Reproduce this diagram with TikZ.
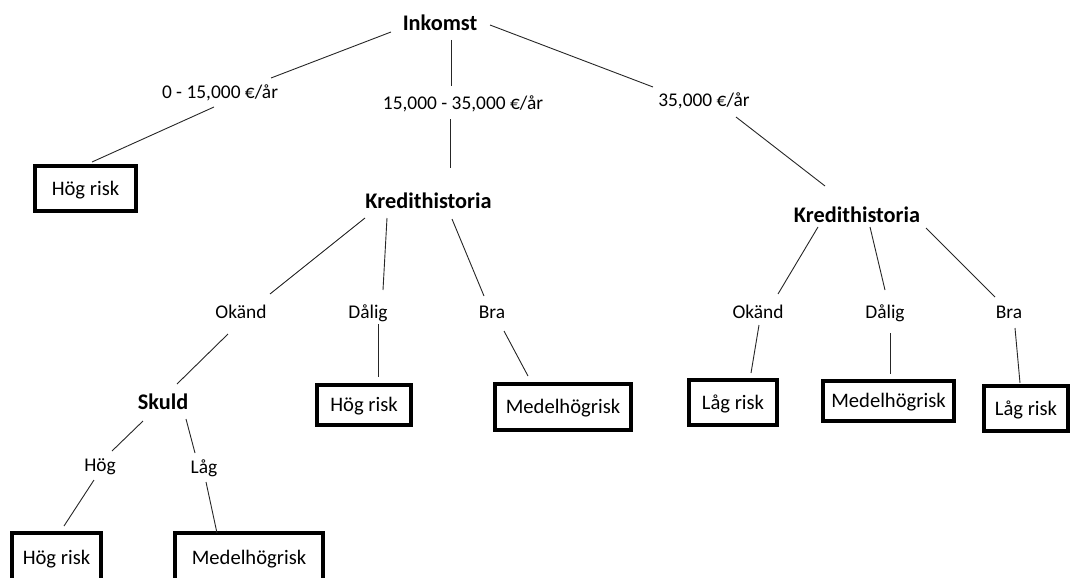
\documentclass[tikz,border=0pt]{standalone}
\usepackage{fontspec}
\setmainfont{Carlito}
\tikzset{
  lbl/.style={inner sep=0pt, text height=12.4pt, text depth=0pt, font=\fontsize{19.4}{23}\selectfont},
  hdr/.style={inner sep=0pt, text height=14.3pt, text depth=0pt, font=\fontsize{22.3}{26}\selectfont\bfseries},
  leaf/.style={draw, line width=4pt, inner sep=0pt, text height=13.2pt, text depth=0pt, font=\fontsize{20.6}{24}\selectfont},
  conn/.style={line width=0.9pt, draw=black!85}
}
\begin{document}
\begin{tikzpicture}[x=1pt,y=-1pt]
\useasboundingbox (0,0) rectangle (1071,578);
\clip (0,0) rectangle (1071,578);
% decision nodes
\node[hdr] (ink) at (440,23) {Inkomst};
\node[hdr] (kl) at (428.5,201) {Kredithistoria};
\node[hdr] (kr) at (857,215) {Kredithistoria};
\node[hdr] (sk) at (163,402) {Skuld};
% branch labels
\node[lbl] (l1) at (220,92) {0 - 15,000 €/år};
\node[lbl] (l2) at (463,103) {15,000 - 35,000 €/år};
\node[lbl] (l3) at (704,100) {35,000 €/år};
\node[lbl] (ok1) at (241,312) {Okänd};
\node[lbl] (da1) at (368,312) {Dålig};
\node[lbl] (br1) at (492,312) {Bra};
\node[lbl] (ok2) at (758,312) {Okänd};
\node[lbl] (da2) at (885,312) {Dålig};
\node[lbl] (br2) at (1009,312) {Bra};
\node[lbl] (hg) at (100,465) {Hög};
\node[lbl] (lg) at (204,467) {Låg};
% leaves
\node[leaf, minimum width=101pt, minimum height=45pt] (b1) at (85.5,188.5) {Hög risk};
\node[leaf, minimum width=94pt, minimum height=40pt] (b2) at (364,405) {Hög risk};
\node[leaf, minimum width=136pt, minimum height=46pt] (b3) at (563,407) {Medelhögrisk};
\node[leaf, minimum width=89pt, minimum height=50pt] (b4) at (56.5,558) {Hög risk};
\node[leaf, minimum width=148pt, minimum height=50pt] (b5) at (249,558) {Medelhögrisk};
\node[leaf, minimum width=88pt, minimum height=45pt] (b6) at (733,402.5) {Låg risk};
\node[leaf, minimum width=131pt, minimum height=40pt] (b7) at (888.5,401) {Medelhögrisk};
\node[leaf, minimum width=84pt, minimum height=45pt] (b8) at (1026,408.5) {Låg risk};
% connectors
\draw[conn] ([shift={(-49,9)}]ink.center) -- ([shift={(51,-14)}]l1.center);
\draw[conn] ([shift={(-6,15)}]l1.center) -- ([shift={(6.5,-26.5)}]b1.center);
\draw[conn] ([shift={(11,17)}]ink.center) -- ([shift={(-12,-17)}]l2.center);
\draw[conn] ([shift={(-13,16)}]l2.center) -- ([shift={(21.5,-33)}]kl.center);
\draw[conn] ([shift={(50,2)}]ink.center) -- ([shift={(-51,-13)}]l3.center);
\draw[conn] ([shift={(32,17)}]l3.center) -- ([shift={(-32,-29)}]kr.center);
\draw[conn] ([shift={(-63.5,17)}]kl.center) -- ([shift={(29,-18)}]ok1.center);
\draw[conn] ([shift={(-13,22)}]ok1.center) -- ([shift={(14,-18)}]sk.center);
\draw[conn] ([shift={(-41.5,17)}]kl.center) -- ([shift={(15,-22)}]da1.center);
\draw[conn] ([shift={(10,12)}]da1.center) -- ([shift={(14,-28)}]b2.center);
\draw[conn] ([shift={(23.5,18)}]kl.center) -- ([shift={(-8,-16)}]br1.center);
\draw[conn] ([shift={(12,19)}]br1.center) -- ([shift={(-35,-31)}]b3.center);
\draw[conn] ([shift={(-20,19)}]sk.center) -- ([shift={(12,-14)}]hg.center);
\draw[conn] ([shift={(-6,15)}]hg.center) -- ([shift={(7.5,-32)}]b4.center);
\draw[conn] ([shift={(23,17)}]sk.center) -- ([shift={(-9,-14)}]lg.center);
\draw[conn] ([shift={(2,15)}]lg.center) -- ([shift={(-32,-25)}]b5.center);
\draw[conn] ([shift={(-39,12)}]kr.center) -- ([shift={(20,-18)}]ok2.center);
\draw[conn] ([shift={(1,13)}]ok2.center) -- ([shift={(18,-29.5)}]b6.center);
\draw[conn] ([shift={(13,12)}]kr.center) -- ([shift={(0,-22)}]da2.center);
\draw[conn] ([shift={(5,21)}]da2.center) -- ([shift={(1.5,-27)}]b7.center);
\draw[conn] ([shift={(69,13)}]kr.center) -- ([shift={(-14,-15)}]br2.center);
\draw[conn] ([shift={(6,16)}]br2.center) -- ([shift={(-6,-25.5)}]b8.center);
\end{tikzpicture}
\end{document}
